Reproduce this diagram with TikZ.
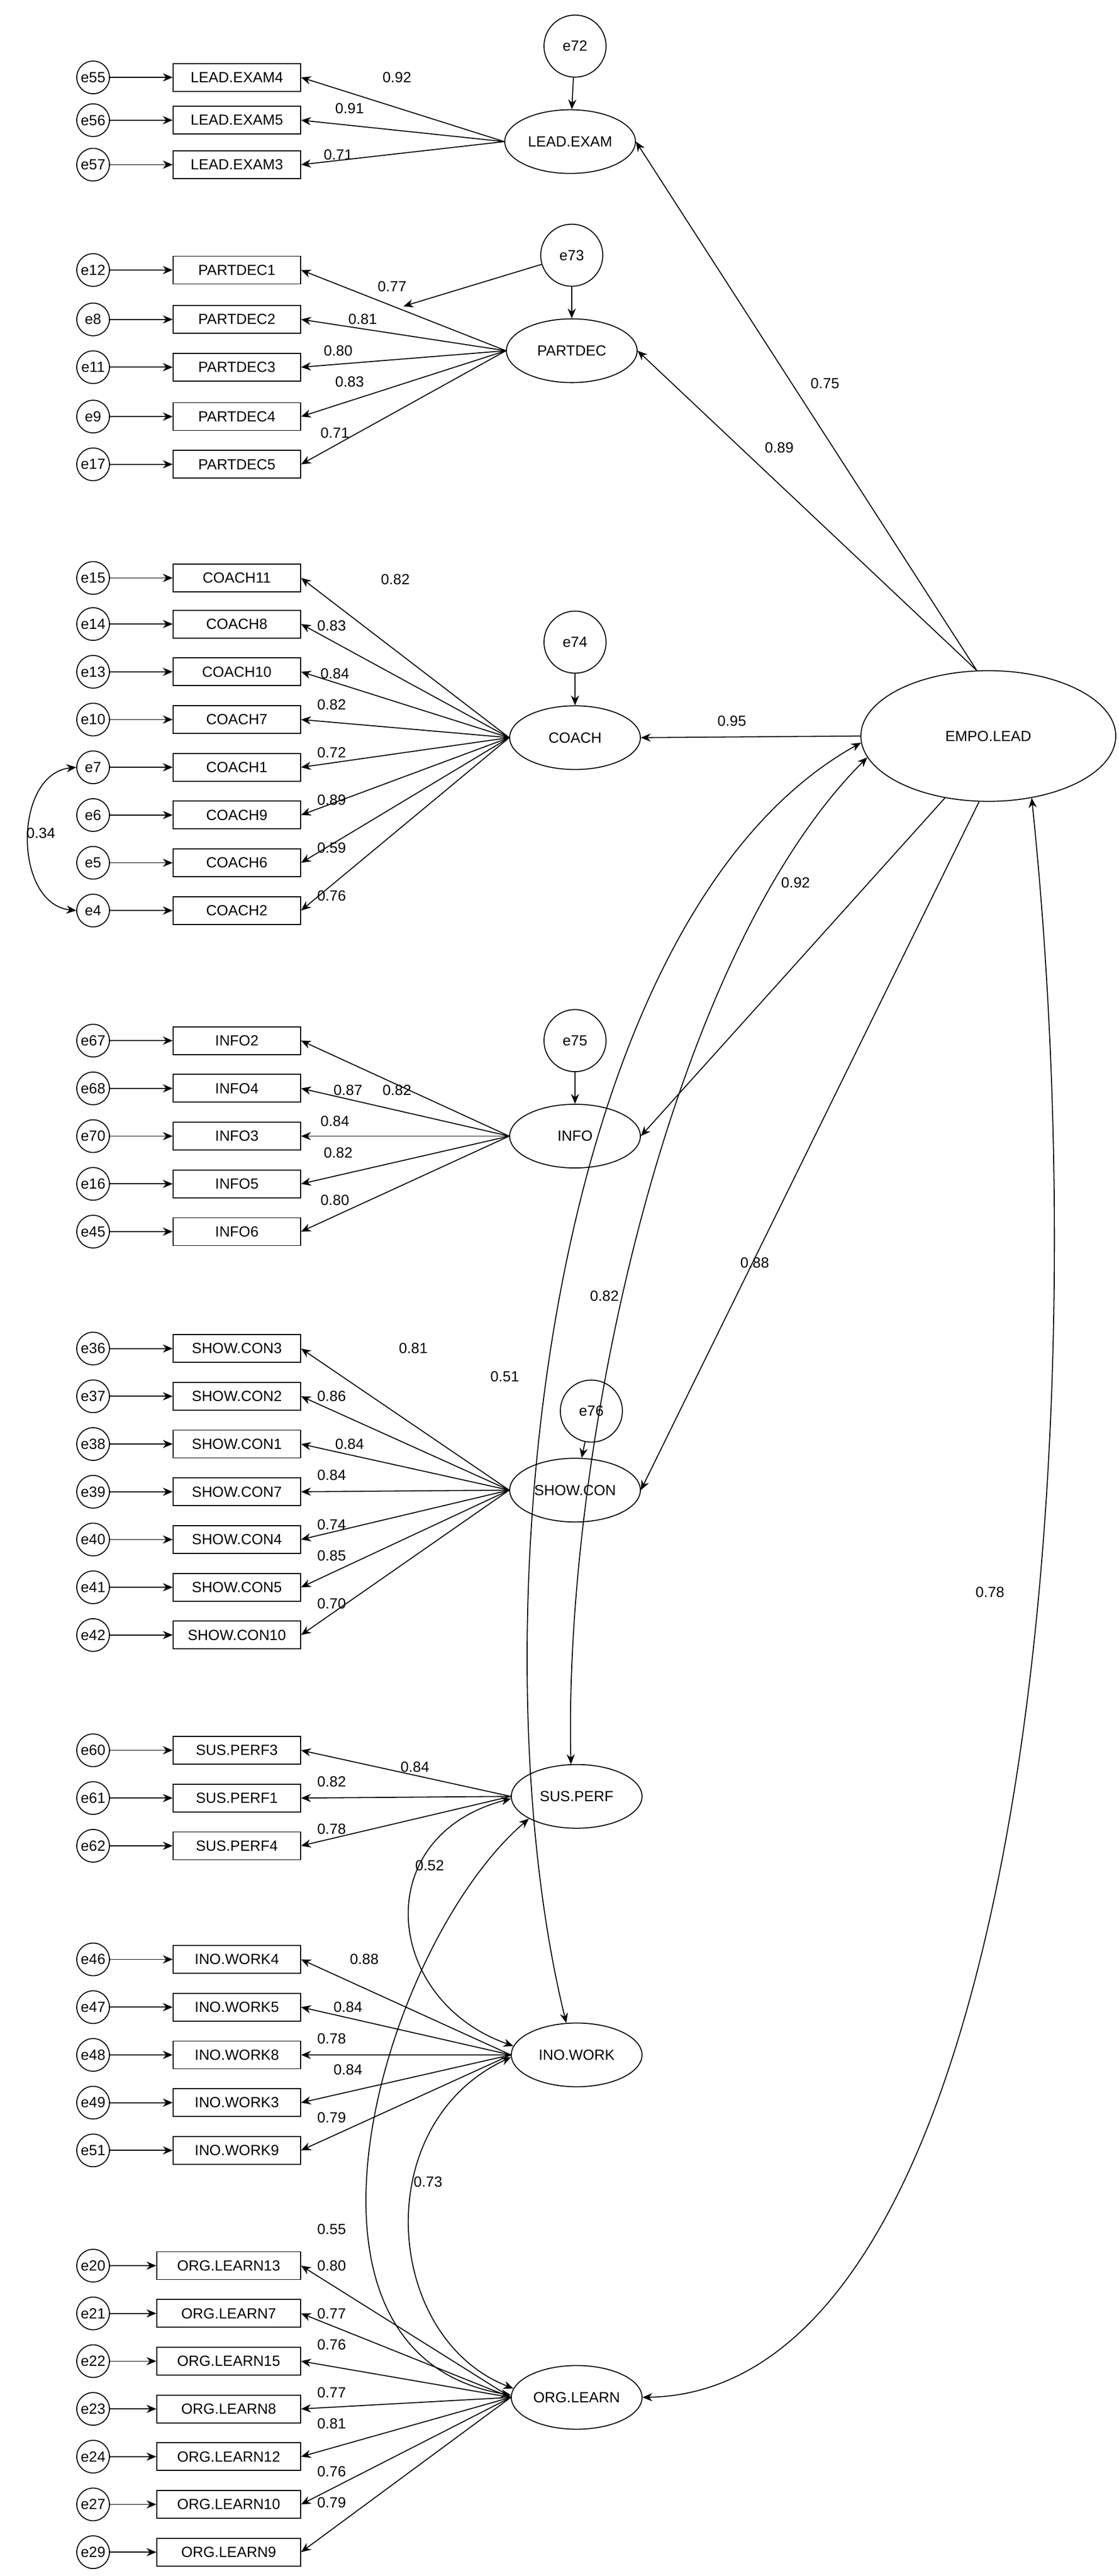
\documentclass[tikz,border=0pt]{standalone}
\usepackage{fontspec}
\setmainfont{Liberation Sans}
\usetikzlibrary{shapes.geometric,arrows.meta}
\begin{document}
\begin{tikzpicture}[x=1pt,y=-1.008pt,font=\fontsize{9}{10}\selectfont,
 ind/.style={draw,minimum height=17pt,inner sep=0pt,line width=0.6pt},
 err/.style={draw,circle,minimum size=20pt,inner sep=0pt,line width=0.6pt},
 terr/.style={draw,circle,minimum size=38pt,inner sep=0pt,line width=0.6pt},
 lat/.style={draw,ellipse,minimum width=80pt,minimum height=39pt,inner sep=0pt,line width=0.6pt},
 arr/.style={-{Stealth[length=6pt,width=5pt]},line width=0.6pt},
 barr/.style={{Stealth[length=6pt,width=5pt]}-{Stealth[length=6pt,width=5pt]},line width=0.6pt},
 lab/.style={inner sep=0pt}]
\useasboundingbox (0,0) rectangle (684.7,1564.5);
% latents
\node[lat] (lead) at (349,86) {LEAD.EXAM};
\node[lat] (part) at (350,213) {PARTDEC};
\node[lat] (coach) at (352,448) {COACH};
\node[lat] (info) at (352,690) {INFO};
\node[lat] (show) at (352,905) {SHOW.CON};
\node[lat] (sus) at (353,1091) {SUS.PERF};
\node[lat] (ino) at (353,1248) {INO.WORK};
\node[lat] (org) at (353,1456) {ORG.LEARN};
\node[draw,ellipse,minimum width=156pt,minimum height=80pt,inner sep=0pt,line width=0.6pt] (emp) at (605,447) {EMPO.LEAD};
% structural errors
\node[terr] (e72) at (352,28) {e72};
\node[terr] (e73) at (350,155) {e73};
\node[terr] (e74) at (352,390) {e74};
\node[terr] (e75) at (352,632) {e75};
\node[terr] (e76) at (362,857) {e76};
\draw[arr] (e72) -- (lead);
\draw[arr] (e73) -- (part);
\draw[arr] (e74) -- (coach);
\draw[arr] (e75) -- (info);
\draw[arr] (e76) -- (show);
\coordinate (p73) at (247,186);
\draw[arr] (e73) -- (p73);
% indicators
\foreach \id/\txt/\e/\y/\v/\lx/\ly/\L/\cx/\w in {
 a1/LEAD.EXAM4/e55/47/0.92/243/47/lead/145/78,
 a2/LEAD.EXAM5/e56/73/0.91/214/66/lead/145/78,
 a3/LEAD.EXAM3/e57/100/0.71/207/94/lead/145/78,
 b1/PARTDEC1/e12/164/0.77/240/174/part/145/78,
 b2/PARTDEC2/e8/194/0.81/222/194/part/145/78,
 b3/PARTDEC3/e11/223/0.80/207/213/part/145/78,
 b4/PARTDEC4/e9/253/0.83/214/232/part/145/78,
 b5/PARTDEC5/e17/282/0.71/205/263/part/145/78,
 c1/COACH11/e15/351/0.82/242/352/coach/145/78,
 c2/COACH8/e14/379/0.83/203/380/coach/145/78,
 c3/COACH10/e13/408/0.84/205/409/coach/145/78,
 c4/COACH7/e10/437/0.82/203/428/coach/145/78,
 c5/COACH1/e7/466/0.72/203/457/coach/145/78,
 c6/COACH9/e6/495/0.89/203/486/coach/145/78,
 c7/COACH6/e5/524/0.59/203/515/coach/145/78,
 c8/COACH2/e4/553/0.76/203/544/coach/145/78,
 d1/INFO2/e67/632/0.82/243/662/info/145/78,
 d2/INFO4/e68/661/0.87/213/662/info/145/78,
 d3/INFO3/e70/690/0.84/205/681/info/145/78,
 d4/INFO5/e16/719/0.82/207/700/info/145/78,
 d5/INFO6/e45/748/0.80/205/729/info/145/78,
 f1/SHOW.CON3/e36/819/0.81/253/819/show/145/78,
 f2/SHOW.CON2/e37/848/0.86/203/848/show/145/78,
 f3/SHOW.CON1/e38/877/0.84/214/877/show/145/78,
 f4/SHOW.CON7/e39/906/0.84/203/896/show/145/78,
 f5/SHOW.CON4/e40/935/0.74/203/926/show/145/78,
 f6/SHOW.CON5/e41/964/0.85/203/945/show/145/78,
 f7/SHOW.CON10/e42/993/0.70/203/974/show/145/78,
 g1/SUS.PERF3/e60/1063/0.84/254/1073/sus/145/78,
 g2/SUS.PERF1/e61/1092/0.82/203/1082/sus/145/78,
 g3/SUS.PERF4/e62/1121/0.78/203/1111/sus/145/78,
 h1/INO.WORK4/e46/1190/0.88/223/1190/ino/145/78,
 h2/INO.WORK5/e47/1219/0.84/213/1219/ino/145/78,
 h3/INO.WORK8/e48/1248/0.78/203/1238/ino/145/78,
 h4/INO.WORK3/e49/1277/0.84/213/1257/ino/145/78,
 h5/INO.WORK9/e51/1306/0.79/203/1286/ino/145/78,
 k1/ORG.LEARN13/e20/1376/0.80/203/1376/org/140/88,
 k2/ORG.LEARN7/e21/1405/0.77/203/1405/org/140/88,
 k3/ORG.LEARN15/e22/1434/0.76/203/1424/org/140/88,
 k4/ORG.LEARN8/e23/1463/0.77/203/1453/org/140/88,
 k5/ORG.LEARN12/e24/1492/0.81/203/1472/org/140/88,
 k6/ORG.LEARN10/e27/1521/0.76/203/1501/org/140/88,
 k7/ORG.LEARN9/e29/1550/0.79/203/1520/org/140/88}{
 \node[ind,minimum width=\w pt] (\id) at (\cx,\y) {\txt};
 \node[err] (e\id) at (57,\y) {\e};
 \draw[arr] (e\id) -- (\id);
 \draw[arr] (\L.west) -- (\id.east);
 \node[lab] (l\id) at (\lx,\ly) {\v};
}
% covariance e7-e4
\draw[barr] (ec5.west) .. controls (8,470) and (8,549) .. (ec8.west);
\node[lab] (l34) at (25,506) {0.34};
% structural paths
\draw[arr] (emp.100) -- (lead.east);
\draw[arr] (emp.100) -- (part.east);
\draw[arr] (emp.west) -- (coach.east);
\draw[arr] (emp.235) -- (info.east);
\draw[arr] (emp.262) -- (show.east);
\node[lab] (s1) at (505,233) {0.75};
\node[lab] (s2) at (477,272) {0.89};
\node[lab] (s3) at (448,438) {0.95};
\node[lab] (s4) at (487,536) {0.92};
\node[lab] (s5) at (462,767) {0.88};
% covariances
\draw[barr] (emp.190) .. controls (410,580) and (345,880) .. (sus.100);
\draw[barr] (emp.183) .. controls (330,560) and (290,1000) .. (ino.108);
\draw[barr] (emp.305) .. controls (675,900) and (620,1452) .. (org.east);
\draw[barr] (sus.182) .. controls (225,1115) and (235,1215) .. (ino.172);
\draw[barr] (ino.182) .. controls (225,1290) and (235,1420) .. (org.172);
\draw[barr] (sus.205) .. controls (235,1180) and (160,1430) .. (org.178);
\node[lab] (s6) at (370,787) {0.82};
\node[lab] (s7) at (309,836) {0.51};
\node[lab] (s8) at (606,967) {0.78};
\node[lab] (s9) at (263,1133) {0.52};
\node[lab] (s10) at (262,1325) {0.73};
\node[lab] (s11) at (203,1354) {0.55};
\end{tikzpicture}
\end{document}
